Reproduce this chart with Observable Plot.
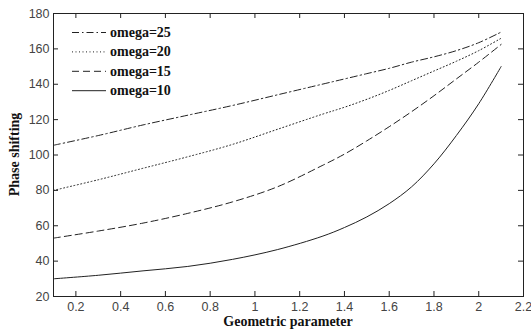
<!DOCTYPE html>
<html><head><meta charset="utf-8">
<script src="https://cdn.jsdelivr.net/npm/d3@7"></script>
<script src="https://cdn.jsdelivr.net/npm/@observablehq/plot@0.6"></script>
<style>body{margin:0;background:#fff}</style>
</head><body><div id="chart"></div>
<script>
const xGrid = [0.1, 0.3, 0.5, 0.7, 0.9, 1.1, 1.3, 1.4, 1.5, 1.6, 1.7, 1.8, 1.9, 2.0, 2.1];
const omega25 = [105.5, 111, 117, 122.5, 128, 134, 140, 143, 146, 149, 152.5, 155.5, 159, 163.5, 169.5];
const omega20 = [80, 86, 92.5, 99, 106, 114.5, 123, 127, 131.5, 136.5, 142, 147.5, 153, 159, 166];
const omega15 = [53, 57, 61.5, 67, 73.5, 82, 94, 100.5, 108, 116, 124.5, 133.5, 143, 152.5, 162.5];
const omega10 = [30, 32, 34.5, 37, 41, 46.5, 54, 59, 65, 72.5, 82, 95, 111, 129, 150];
const seriesNames = ["omega=25", "omega=20", "omega=15", "omega=10"];
const seriesValues = [omega25, omega20, omega15, omega10];
const dashes = ["7,3,1.5,3", "1,2.5", "7,4", null];
const xTicks = [0.2, 0.4, 0.6, 0.8, 1, 1.2, 1.4, 1.6, 1.8, 2, 2.2];
const yTicks = [20, 40, 60, 80, 100, 120, 140, 160, 180];

const W = 531, H = 333, mL = 53, mR = 8, mT = 13, mB = 37;
const pw = W - mL - mR, ph = H - mT - mB, tk = 5;
const ink = "#222";

const lineMarks = seriesNames.map((name, s) =>
  Plot.line(xGrid.map((x, i) => ({x, y: seriesValues[s][i]})), {
    x: "x", y: "y", curve: "catmull-rom", stroke: ink, strokeWidth: 1,
    strokeDasharray: dashes[s]
  })
);

const chart = Plot.plot({
  width: W, height: H,
  marginLeft: mL, marginRight: mR, marginTop: mT, marginBottom: mB,
  style: {fontFamily: "'Liberation Sans', Arial, sans-serif", fontSize: "12.5px", color: "#333", background: "#fff"},
  x: {domain: [0.1, 2.2]},
  y: {domain: [20, 180]},
  marks: [
    ...lineMarks,
    Plot.tickX(xTicks, {x: d => d, insetTop: ph - tk, stroke: ink}),
    Plot.tickX(xTicks, {x: d => d, insetBottom: ph - tk, stroke: ink}),
    Plot.tickY(yTicks, {y: d => d, insetRight: pw - tk, stroke: ink}),
    Plot.tickY(yTicks, {y: d => d, insetLeft: pw - tk, stroke: ink}),
    Plot.frame({stroke: ink}),
    Plot.axisX(xTicks, {tickSize: 0, tickPadding: 6, label: null, tickFormat: d => String(d), fill: "#444"}),
    Plot.axisY(yTicks, {tickSize: 0, tickPadding: 4, label: null, tickFormat: d => String(d), fill: "#444"})
  ]
});
document.getElementById("chart").appendChild(chart);

const svg = d3.select(chart);
const serif = "'Liberation Serif', 'Times New Roman', serif";
function serifText(sel) {
  return sel.style("font-family", serif).style("font-weight", "bold")
    .style("font-size", "14px").style("fill", "#111");
}
serifText(svg.append("text").attr("x", mL + pw / 2).attr("y", 326)
  .style("text-anchor", "middle")).text("Geometric parameter");
serifText(svg.append("text").attr("transform", `translate(19,${mT + ph / 2}) rotate(-90)`)
  .style("text-anchor", "middle")).text("Phase shifting");

const leg = svg.append("g");
seriesNames.forEach((name, i) => {
  const y = 32.5 + i * 19.4;
  leg.append("line").attr("x1", 72).attr("x2", 106).attr("y1", y).attr("y2", y)
    .attr("stroke", ink).attr("stroke-width", 1).attr("stroke-dasharray", dashes[i]);
  serifText(leg.append("text").attr("x", 110).attr("y", y + 4.5)
    .style("text-anchor", "start")).text(name);
});
</script>
</body></html>
